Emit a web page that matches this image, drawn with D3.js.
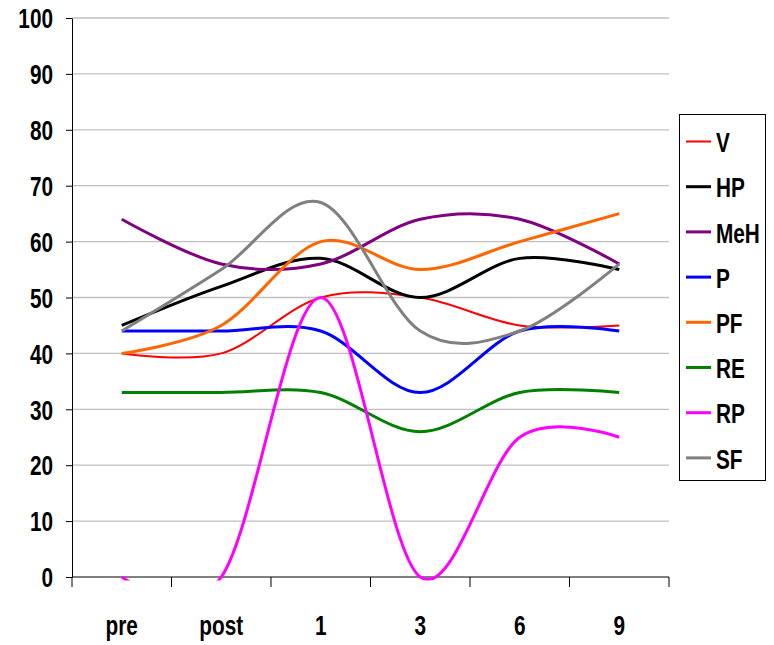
<!DOCTYPE html>
<html>
<head>
<meta charset="utf-8">
<script src="https://cdn.jsdelivr.net/npm/d3@7/dist/d3.min.js"></script>
<style>
  html, body { margin: 0; padding: 0; background: #fff; }
  svg { display: block; }
  text { font-family: "Liberation Sans", Arial, sans-serif; font-weight: bold; fill: #000; }
</style>
</head>
<body>
<svg id="chart" width="774" height="645"></svg>
<script>
// Time points
const categories = ["pre", "post", "1", "3", "6", "9"];

// Series values per time point
const V   = [40, 40, 50, 50, 45, 45];
const HP  = [45, 52, 57, 50, 57, 55];
const MeH = [64, 56, 56, 64, 64, 56];
const P   = [44, 44, 44, 33, 44, 44];
const PF  = [40, 45, 60, 55, 60, 65];
const RE  = [33, 33, 33, 26, 33, 33];
const RP  = [0, 0, 50, 0, 25, 25];
const SF  = [44, 55, 67, 44, 44, 56];

const seriesNames = ["V", "HP", "MeH", "P", "PF", "RE", "RP", "SF"];
const seriesValues = [V, HP, MeH, P, PF, RE, RP, SF];
const seriesColors = ["#ff0000", "#000000", "#800080", "#0000ff", "#ff6600", "#008000", "#ff00ff", "#808080"];
const seriesWidths = [2, 3, 3, 3, 3, 3, 3, 3];

const yTicks = [0, 10, 20, 30, 40, 50, 60, 70, 80, 90, 100];

const svg = d3.select("#chart");
const plotL = 72, plotR = 669, plotT = 18, plotB = 577;
const squeeze = 0.77; // narrow lettering
const fontPx = "27px";

const x = d3.scaleBand().domain(categories).range([plotL, plotR]).paddingInner(0).paddingOuter(0);
const y = d3.scaleLinear().domain([0, 100]).range([plotB, plotT]);
const cx = c => x(c) + x.bandwidth() / 2;

// Horizontal gridlines
svg.append("g")
  .selectAll("line")
  .data(yTicks.filter(d => d > 0))
  .join("line")
  .attr("x1", plotL).attr("x2", plotR)
  .attr("y1", d => y(d)).attr("y2", d => y(d))
  .attr("stroke", "#c0c0c0").attr("stroke-width", 1.3);

// Y axis
const yAxis = svg.append("g")
  .attr("transform", `translate(${plotL},0)`)
  .call(d3.axisLeft(y).tickValues(yTicks).tickSize(6).tickSizeOuter(0).tickFormat(d3.format("d")));
yAxis.select(".domain").attr("stroke", "#000");
yAxis.selectAll(".tick line").attr("stroke", "#000");
yAxis.selectAll(".tick text")
  .attr("x", -19 / squeeze)
  .attr("dy", "0.36em")
  .attr("transform", `scale(${squeeze},1)`)
  .style("font-size", fontPx)
  .style("font-family", "'Liberation Sans', Arial, sans-serif")
  .style("font-weight", "bold")
  .attr("fill", "#000");

// X axis: labels at category centres, ticks at category boundaries
const xAxis = svg.append("g")
  .attr("transform", `translate(0,${plotB})`)
  .call(d3.axisBottom(x).tickSize(0).tickSizeOuter(0));
xAxis.select(".domain").remove();
xAxis.selectAll(".tick text")
  .attr("y", 58)
  .attr("dy", 0)
  .attr("x", 0)
  .attr("transform", `scale(${squeeze},1)`)
  .style("font-size", fontPx)
  .style("font-family", "'Liberation Sans', Arial, sans-serif")
  .style("font-weight", "bold")
  .attr("fill", "#000");
xAxis.append("line")
  .attr("x1", plotL).attr("x2", plotR).attr("y1", 0).attr("y2", 0)
  .attr("stroke", "#000").attr("stroke-width", 1);
xAxis.selectAll(".bound")
  .data(categories.map(c => x(c)).concat([plotR]))
  .join("line")
  .attr("class", "bound")
  .attr("x1", d => d).attr("x2", d => d)
  .attr("y1", 0).attr("y2", 10)
  .attr("stroke", "#000").attr("stroke-width", 1);

// Plot clip so smoothed curves stay within the axis range
svg.append("defs").append("clipPath").attr("id", "plotClip")
  .append("rect")
  .attr("x", plotL).attr("y", plotT - 2)
  .attr("width", plotR - plotL + 4).attr("height", plotB - plotT + 5.5);

const line = d3.line()
  .x((d, i) => cx(categories[i]))
  .y(d => y(d))
  .curve(d3.curveCardinal.tension(0));

svg.append("g")
  .attr("clip-path", "url(#plotClip)")
  .selectAll("path")
  .data(seriesValues)
  .join("path")
  .attr("d", d => line(d))
  .attr("fill", "none")
  .attr("stroke", (d, i) => seriesColors[i])
  .attr("stroke-width", (d, i) => seriesWidths[i])
  .attr("stroke-linejoin", "round");

// Legend
const legend = svg.append("g");
legend.append("rect")
  .attr("x", 679.5).attr("y", 114.5)
  .attr("width", 86).attr("height", 366)
  .attr("fill", "#fff").attr("stroke", "#000").attr("stroke-width", 1);

const rowY = i => 142.5 + i * 45.2;
const items = legend.selectAll("g.item")
  .data(seriesNames)
  .join("g")
  .attr("class", "item");
items.append("line")
  .attr("x1", 686).attr("x2", 711)
  .attr("y1", (d, i) => rowY(i) - 1).attr("y2", (d, i) => rowY(i) - 1)
  .attr("stroke", (d, i) => seriesColors[i])
  .attr("stroke-width", (d, i) => seriesWidths[i]);
items.append("text")
  .attr("transform", (d, i) => `translate(716,${rowY(i)}) scale(${squeeze},1)`)
  .attr("dy", "0.36em")
  .style("font-size", fontPx)
  .text(d => d);
</script>
</body>
</html>
